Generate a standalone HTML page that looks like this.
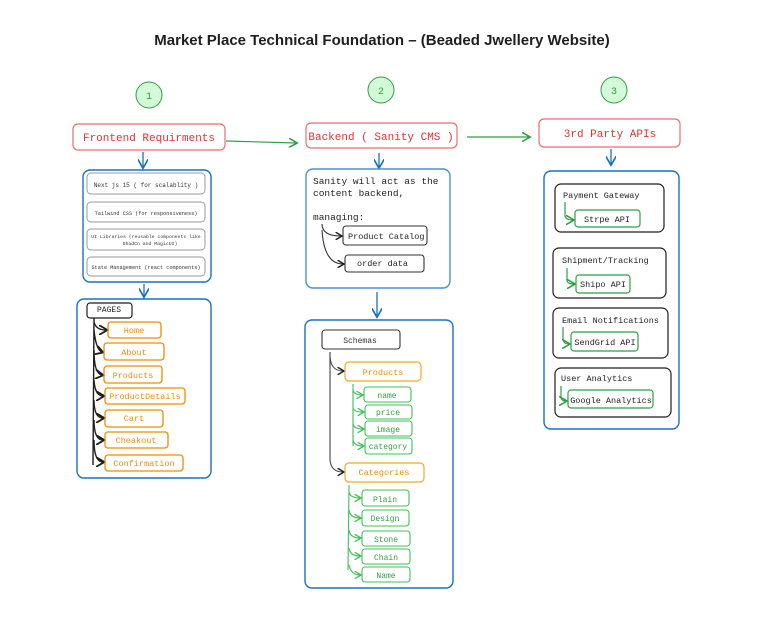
<!DOCTYPE html>
<html><head><meta charset="utf-8"><style>
html,body{margin:0;padding:0;background:#fff;}
svg{display:block;}
text{font-family:"Liberation Mono",monospace;}
text.t{font-family:"Liberation Sans",sans-serif;}
</style></head><body>
<svg width="775" height="623" viewBox="0 0 775 623" xmlns="http://www.w3.org/2000/svg">
<defs>
<marker id="ab" markerWidth="8" markerHeight="8" refX="6" refY="4" orient="auto"><path d="M0,0 L7,4 L0,8" fill="none" stroke="#1971c2" stroke-width="1.3"/></marker>
<marker id="ag" markerWidth="8" markerHeight="8" refX="6" refY="4" orient="auto"><path d="M0,0 L7,4 L0,8" fill="none" stroke="#2f9e44" stroke-width="1.3"/></marker>
<marker id="ak" markerWidth="7" markerHeight="7" refX="5" refY="3.5" orient="auto"><path d="M0,0 L6,3.5 L0,7" fill="none" stroke="#1e1e1e" stroke-width="1.3"/></marker>
<marker id="agl" markerWidth="7" markerHeight="7" refX="5" refY="3.5" orient="auto"><path d="M0,0 L6,3.5 L0,7" fill="none" stroke="#40c057" stroke-width="1.2"/></marker>
</defs>
<text class="t" x="382" y="45" text-anchor="middle" font-weight="bold" font-size="15" fill="#1e1e1e">Market Place Technical Foundation – (Beaded Jwellery Website)</text>

<g stroke="#2f9e44" fill="#d3f9d8" stroke-width="1">
<circle cx="149" cy="95" r="13"/><circle cx="381" cy="90" r="13"/><circle cx="614" cy="90" r="13"/></g>
<g font-size="10" fill="#2f9e44" text-anchor="middle"><text x="149" y="99">1</text><text x="381" y="94">2</text><text x="614" y="94">3</text></g>

<g fill="none" stroke="#e03131" stroke-opacity="0.7" stroke-width="1.2">
<rect x="73" y="124" width="152" height="26" rx="5"/>
<rect x="306" y="123" width="151" height="25" rx="5"/>
<rect x="539" y="119" width="141" height="28" rx="5"/></g>
<g font-size="11" fill="#e03131" text-anchor="middle">
<text x="149" y="141">Frontend Requirments</text>
<text x="381" y="140">Backend ( Sanity CMS )</text>
<text x="610" y="137">3rd Party APIs</text></g>

<g stroke="#2f9e44" stroke-width="1.2" fill="none">
<path d="M226,141 L296,143" marker-end="url(#ag)"/>
<path d="M467,137 L529,137" marker-end="url(#ag)"/></g>
<g stroke="#1971c2" stroke-width="1.3" fill="none">
<path d="M143,152 L143,167" marker-end="url(#ab)"/>
<path d="M379,153 L379,167" marker-end="url(#ab)"/>
<path d="M611,149 L611,164" marker-end="url(#ab)"/>
<path d="M144,284 L144,296" marker-end="url(#ab)"/>
<path d="M377,292 L377,316" marker-end="url(#ab)"/></g>

<g fill="none" stroke="#1971c2" stroke-width="1.4">
<rect x="83" y="170" width="128" height="112" rx="7"/>
<rect x="77" y="299" width="134" height="179" rx="7"/>
<rect x="306" y="169" width="144" height="119" rx="7" stroke="#4a90d9"/>
<rect x="305" y="320" width="148" height="268" rx="7"/>
<rect x="544" y="171" width="135" height="258" rx="7"/></g>
<g fill="none" stroke="#999" stroke-width="1">
<rect x="87" y="173" width="118" height="21" rx="4"/>
<rect x="87" y="202" width="118" height="20" rx="4"/>
<rect x="87" y="229" width="118" height="21" rx="4"/>
<rect x="87" y="257" width="118" height="19" rx="4"/></g>
<g font-size="5.2" fill="#333">
<text x="146" y="187" text-anchor="middle" font-size="6">Next js 15 ( for scalablity )</text>
<text x="146" y="215" text-anchor="middle">Tailwind CSS (for responsiveness)</text>
<text x="146" y="238" text-anchor="middle" font-size="4.8">UI Libraries (reusable components like</text>
<text x="150" y="245" text-anchor="middle" font-size="4.8">ShadCn and MagicUI)</text>
<text x="146" y="269" text-anchor="middle">State Management (react components)</text></g>

<rect x="87" y="303" width="45" height="15" rx="3" fill="none" stroke="#1e1e1e" stroke-width="1.2"/>
<text x="109" y="312" font-size="8" text-anchor="middle" fill="#1e1e1e">PAGES</text>
<g fill="none" stroke="#1e1e1e" stroke-width="1.4">
<path d="M94,318 L93,465"/>
<path d="M94,322 Q96,330 106,330" marker-end="url(#ak)"/>
<path d="M94,330 Q96,350 102,352" marker-end="url(#ak)"/>
<path d="M94,350 Q94,374 102,375" marker-end="url(#ak)"/>
<path d="M94,380 Q95,396 103,396" marker-end="url(#ak)"/>
<path d="M94,400 Q94,418 103,418" marker-end="url(#ak)"/>
<path d="M94,420 Q94,440 103,440" marker-end="url(#ak)"/>
<path d="M94,440 Q94,462 103,462" marker-end="url(#ak)"/></g>
<g fill="none" stroke="#f08c00" stroke-width="1.3">
<rect x="108" y="322" width="53" height="16" rx="3"/>
<rect x="104" y="343" width="60" height="17" rx="3"/>
<rect x="104" y="366" width="58" height="17" rx="3"/>
<rect x="105" y="388" width="80" height="16" rx="3"/>
<rect x="105" y="410" width="58" height="17" rx="3"/>
<rect x="105" y="432" width="63" height="16" rx="3"/>
<rect x="105" y="455" width="78" height="16" rx="3"/></g>
<g font-size="8.5" fill="#f08c00" text-anchor="middle">
<text x="134" y="333">Home</text><text x="134" y="355">About</text><text x="133" y="378">Products</text>
<text x="145" y="399">ProductDetails</text><text x="134" y="421">Cart</text><text x="136" y="443">Cheakout</text><text x="144" y="466">Confirmation</text></g>

<g font-size="9.5" fill="#1e1e1e">
<text x="313" y="184">Sanity will act as the</text>
<text x="313" y="196">content backend,</text>
<text x="313" y="220">managing:</text></g>
<g fill="none" stroke="#333" stroke-width="1.1">
<rect x="343" y="226" width="84" height="19" rx="3"/>
<rect x="345" y="255" width="79" height="17" rx="3"/>
<path d="M322,224 Q322,236 341,236" marker-end="url(#ak)"/>
<path d="M322,230 Q324,264 343,264" marker-end="url(#ak)"/></g>
<g font-size="8.5" fill="#1e1e1e"><text x="348" y="239">Product Catalog</text><text x="357" y="266">order data</text></g>

<rect x="322" y="330" width="78" height="19" rx="3" fill="none" stroke="#333" stroke-width="1.1"/>
<text x="360" y="343" font-size="8" text-anchor="middle" fill="#333">Schemas</text>
<g fill="none" stroke="#444" stroke-width="1.1">
<path d="M330,352 Q329,371 343,371" marker-end="url(#ak)"/>
<path d="M330,352 L330,460 Q331,472 343,472" marker-end="url(#ak)"/></g>
<g fill="none" stroke="#f5a623" stroke-width="1.2">
<rect x="345" y="362" width="76" height="19" rx="4"/>
<rect x="345" y="463" width="79" height="19" rx="4"/></g>
<g font-size="8.5" fill="#f08c00" text-anchor="middle"><text x="383" y="375">Products</text><text x="384" y="475">Categories</text></g>
<g fill="none" stroke="#40c057" stroke-width="1.1">
<path d="M353,384 L353,446"/>
<path d="M353,390 Q354,395 362,395" marker-end="url(#agl)"/>
<path d="M353,408 Q354,412 363,412" marker-end="url(#agl)"/>
<path d="M353,424 Q354,429 363,429" marker-end="url(#agl)"/>
<path d="M353,440 Q354,446 363,446" marker-end="url(#agl)"/>
<path d="M349,485 L348,570"/>
<path d="M349,492 Q350,498 360,498" marker-end="url(#agl)"/>
<path d="M349,510 Q350,518 360,518" marker-end="url(#agl)"/>
<path d="M349,530 Q350,538 360,538" marker-end="url(#agl)"/>
<path d="M349,548 Q350,556 360,556" marker-end="url(#agl)"/>
<path d="M349,565 Q351,575 360,575" marker-end="url(#agl)"/>
<rect x="364" y="387" width="47" height="15" rx="3"/>
<rect x="365" y="405" width="47" height="14" rx="3"/>
<rect x="365" y="421" width="47" height="15" rx="3"/>
<rect x="365" y="438" width="47" height="16" rx="3"/>
<rect x="362" y="490" width="47" height="16" rx="3"/>
<rect x="362" y="510" width="47" height="16" rx="3"/>
<rect x="362" y="531" width="48" height="15" rx="3"/>
<rect x="362" y="549" width="48" height="15" rx="3"/>
<rect x="362" y="567" width="48" height="15" rx="3"/></g>
<g font-size="8" fill="#2f9e44" text-anchor="middle">
<text x="387" y="398">name</text><text x="388" y="415">price</text><text x="388" y="432">image</text><text x="388" y="449">category</text>
<text x="385" y="502">Plain</text><text x="385" y="521">Design</text><text x="386" y="542">Stone</text><text x="386" y="560">Chain</text><text x="386" y="578">Name</text></g>

<g fill="none" stroke="#1e1e1e" stroke-width="1.2">
<rect x="555" y="184" width="109" height="48" rx="6"/>
<rect x="553" y="248" width="113" height="50" rx="6"/>
<rect x="553" y="308" width="115" height="50" rx="6"/>
<rect x="555" y="368" width="116" height="49" rx="6"/></g>
<g font-size="8.5" fill="#1e1e1e">
<text x="563" y="198">Payment Gateway</text><text x="562" y="263">Shipment/Tracking</text>
<text x="562" y="323">Email Notifications</text><text x="561" y="381">User Analytics</text></g>
<g fill="none" stroke="#2f9e44" stroke-width="1.2">
<path d="M565,202 L565,216 Q566,220 573,220" marker-end="url(#ag)"/>
<path d="M567,268 L567,281 Q568,284 574,284" marker-end="url(#ag)"/>
<path d="M563,327 L563,340 Q564,344 569,344" marker-end="url(#ag)"/>
<path d="M561,386 L561,398 Q562,401 566,401" marker-end="url(#ag)"/>
<rect x="575" y="210" width="65" height="17" rx="3"/>
<rect x="576" y="275" width="54" height="18" rx="3"/>
<rect x="571" y="332" width="67" height="19" rx="3"/>
<rect x="568" y="390" width="85" height="18" rx="3"/></g>
<g font-size="8.5" fill="#1e1e1e" text-anchor="middle">
<text x="607" y="222">Strpe API</text><text x="603" y="287">Shipo API</text>
<text x="605" y="345">SendGrid API</text><text x="611" y="403">Google Analytics</text></g>
</svg>
</body></html>
